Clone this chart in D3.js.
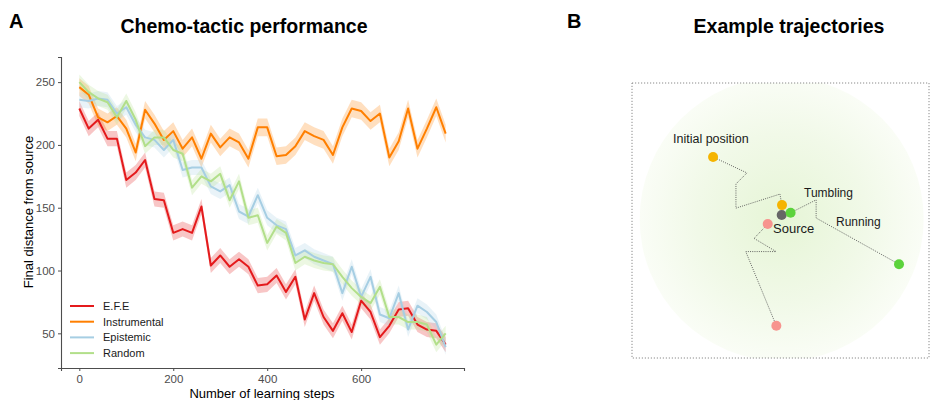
<!DOCTYPE html>
<html>
<head>
<meta charset="utf-8">
<script src="https://cdn.jsdelivr.net/npm/d3@7"></script>
<style>
  body { margin: 0; background: #fff; }
  svg { font-family: "Liberation Sans", Arial, Helvetica, sans-serif; }
</style>
</head>
<body>
<div id="chart"></div>
<script>
// ---- panel A data ----
const steps = [0, 20, 40, 60, 80, 100, 120, 140, 160, 180, 200, 220, 240, 260, 280, 300, 320, 340, 360, 380,
               400, 420, 440, 460, 480, 500, 520, 540, 560, 580, 600, 620, 640, 660, 680, 700, 720, 740, 760, 780];

const efe = [229, 213, 220, 205, 205, 172, 178, 188, 157, 156, 130, 133, 130, 151, 104, 112, 103, 109, 103, 88,
             89, 96, 83, 95, 61, 82, 63, 52, 66, 51, 76, 67, 47, 56, 69, 70, 57, 53, 52, 41];
const instrumental = [246, 240, 222, 218, 223, 213, 194, 228, 217, 204, 211, 197, 206, 189, 209, 198, 206, 202, 189, 214,
                      214, 191, 192, 199, 211, 207, 204, 192, 214, 229, 227, 219, 225, 190, 203, 229, 197, 213, 230, 209];
const epistemic = [236, 235, 237, 236, 225, 230, 216, 206, 204, 196, 204, 180, 182, 182, 167, 163, 168, 147, 143, 160,
                   142, 136, 133, 112, 116, 111, 108, 105, 82, 103, 79, 95, 65, 62, 82, 53, 72, 67, 59, 39];
const random = [250, 242, 237, 234, 222, 235, 220, 199, 206, 206, 196, 193, 166, 175, 171, 177, 156, 171, 142, 144,
                122, 135, 130, 106, 111, 108, 106, 105, 95, 86, 79, 74, 87, 63, 63, 59, 59, 57, 41, 50];

// approximate half-width of the shaded ribbons
const efeSE = 6, instrumentalSE = 7, epistemicSE = 6, randomSE = 6;

const seriesNames = ['E.F.E', 'Instrumental', 'Epistemic', 'Random'];
const seriesColors = ['#E41A1C', '#FF7F00', '#A6CEE3', '#B2DF8A'];

const xTicks = [0, 200, 400, 600];
const yTicks = [50, 100, 150, 200, 250];

// ---- panel B data (arena units 0..100) ----
const source = [50.4, 48.0];
const trajOrange = [[27.3, 26.9], [38.7, 32.7], [35.0, 36.7], [35.0, 45.5], [49.8, 40.4], [50.5, 44.4]];
const trajGreen = [[53.4, 47.2], [62.0, 42.5], [62.0, 49.1], [89.9, 65.9]];
const trajPink = [[45.7, 51.3], [41.1, 56.5], [48.5, 61.3], [38.3, 61.3], [48.6, 88.3]];
const dotColors = { orange: '#F5B400', green: '#5CD33C', pink: '#F7948E', source: '#666666' };

const svg = d3.select('#chart').append('svg')
    .attr('width', 930)
    .attr('height', 400);

// ===================== Panel A =====================
const x = d3.scaleLinear().domain([-39, 819]).range([61, 464]);
const y = d3.scaleLinear().domain([22.4, 270]).range([368, 57]);

const series = [
    { name: seriesNames[0], color: seriesColors[0], values: efe, se: efeSE },
    { name: seriesNames[1], color: seriesColors[1], values: instrumental, se: instrumentalSE },
    { name: seriesNames[2], color: seriesColors[2], values: epistemic, se: epistemicSE },
    { name: seriesNames[3], color: seriesColors[3], values: random, se: randomSE }
];

const area = d3.area()
    .x((d, i) => x(steps[i]))
    .y0(d => y(d.lo))
    .y1(d => y(d.hi));

const line = d3.line()
    .x((d, i) => x(steps[i]))
    .y(d => y(d));

const plotA = svg.append('g');

// ribbons first
plotA.selectAll('path.ribbon')
    .data(series)
    .join('path')
    .attr('class', 'ribbon')
    .attr('fill', s => s.color)
    .attr('fill-opacity', 0.25)
    .attr('d', s => area(s.values.map(v => ({ lo: v - s.se, hi: v + s.se }))));

plotA.selectAll('path.line')
    .data(series)
    .join('path')
    .attr('class', 'line')
    .attr('fill', 'none')
    .attr('stroke', s => s.color)
    .attr('stroke-width', 2)
    .attr('stroke-linejoin', 'round')
    .attr('d', s => line(s.values));

// axes
const xAxis = svg.append('g')
    .attr('transform', 'translate(0,368)')
    .call(d3.axisBottom(x).tickValues(xTicks).tickSizeOuter(0).tickSize(3).tickPadding(4));
const yAxis = svg.append('g')
    .attr('transform', 'translate(61,0)')
    .call(d3.axisLeft(y).tickValues(yTicks).tickSizeOuter(0).tickSize(3).tickPadding(3));

[xAxis, yAxis].forEach(a => {
    a.select('.domain').attr('stroke', '#4D4D4D').attr('stroke-width', 1.1);
    a.selectAll('.tick line').attr('stroke', '#4D4D4D');
    a.selectAll('.tick text')
        .attr('fill', '#4D4D4D')
        .style('font-size', '11.5px')
        .style('font-family', '"Liberation Sans", Arial, sans-serif');
});

svg.append('text')
    .attr('x', 262)
    .attr('y', 398)
    .attr('text-anchor', 'middle')
    .style('font-size', '13px')
    .text('Number of learning steps');

svg.append('text')
    .attr('transform', 'translate(33,212) rotate(-90)')
    .attr('text-anchor', 'middle')
    .style('font-size', '13px')
    .text('Final distance from source');

// legend
const legend = svg.append('g').attr('transform', 'translate(70,306)');
const legendItem = legend.selectAll('g')
    .data(series)
    .join('g')
    .attr('transform', (d, i) => `translate(0,${i * 15.7})`);
legendItem.append('line')
    .attr('x1', 0).attr('x2', 24)
    .attr('stroke', d => d.color)
    .attr('stroke-width', 2);
legendItem.append('text')
    .attr('x', 33)
    .attr('dy', '0.35em')
    .attr('fill', '#1a1a1a')
    .style('font-size', '11px')
    .text(d => d.name);

// titles
svg.append('text')
    .attr('x', 9).attr('y', 28)
    .style('font-size', '20px')
    .style('font-weight', 'bold')
    .text('A');
svg.append('text')
    .attr('x', 244).attr('y', 33)
    .attr('text-anchor', 'middle')
    .style('font-size', '19.5px')
    .style('font-weight', 'bold')
    .text('Chemo-tactic performance');

// ===================== Panel B =====================
svg.append('text')
    .attr('x', 567).attr('y', 28)
    .style('font-size', '20px')
    .style('font-weight', 'bold')
    .text('B');
svg.append('text')
    .attr('x', 789).attr('y', 33)
    .attr('text-anchor', 'middle')
    .style('font-size', '19.5px')
    .style('font-weight', 'bold')
    .text('Example trajectories');

const bx = d3.scaleLinear().domain([0, 100]).range([632, 929]);
const by = d3.scaleLinear().domain([0, 100]).range([83, 358]);

const defs = svg.append('defs');
const grad = defs.append('radialGradient').attr('id', 'glow');
grad.append('stop').attr('offset', '0%').attr('stop-color', '#e6f5d6');
grad.append('stop').attr('offset', '60%').attr('stop-color', '#f1f9e8');
grad.append('stop').attr('offset', '100%').attr('stop-color', '#fafdf6');

const clip = defs.append('clipPath').attr('id', 'arena');
clip.append('rect')
    .attr('x', bx(0)).attr('y', by(0))
    .attr('width', bx(100) - bx(0)).attr('height', by(100) - by(0));

svg.append('circle')
    .attr('clip-path', 'url(#arena)')
    .attr('cx', bx(source[0]))
    .attr('cy', by(source[1]) + 4)
    .attr('r', 142)
    .attr('fill', 'url(#glow)');

svg.append('rect')
    .attr('x', bx(0)).attr('y', by(0))
    .attr('width', bx(100) - bx(0)).attr('height', by(100) - by(0))
    .attr('fill', 'none')
    .attr('stroke', '#8a8a8a')
    .attr('stroke-width', 1)
    .attr('stroke-dasharray', '1.2,1.8');

const trajLine = d3.line().x(d => bx(d[0])).y(d => by(d[1]));
svg.selectAll('path.traj')
    .data([trajOrange, trajGreen, trajPink])
    .join('path')
    .attr('class', 'traj')
    .attr('fill', 'none')
    .attr('stroke', '#555')
    .attr('stroke-width', 0.9)
    .attr('stroke-dasharray', '1,1.2')
    .attr('d', trajLine);

const dots = [
    { p: trajOrange[0], c: dotColors.orange },
    { p: trajOrange[trajOrange.length - 1], c: dotColors.orange },
    { p: trajGreen[trajGreen.length - 1], c: dotColors.green },
    { p: trajPink[0], c: dotColors.pink },
    { p: trajPink[trajPink.length - 1], c: dotColors.pink },
    { p: source, c: dotColors.source },
    { p: trajGreen[0], c: dotColors.green }
];
svg.selectAll('circle.dot')
    .data(dots)
    .join('circle')
    .attr('class', 'dot')
    .attr('cx', d => bx(d.p[0]))
    .attr('cy', d => by(d.p[1]))
    .attr('r', 5)
    .attr('fill', d => d.c);

const labels = [
    { t: 'Initial position', x: 673, y: 143, s: 12.5 },
    { t: 'Tumbling', x: 804, y: 197, s: 12 },
    { t: 'Running', x: 836, y: 226, s: 12 },
    { t: 'Source', x: 773, y: 233, s: 13 }
];
svg.selectAll('text.blabel')
    .data(labels)
    .join('text')
    .attr('class', 'blabel')
    .attr('x', d => d.x)
    .attr('y', d => d.y)
    .attr('fill', '#1a1a1a')
    .style('font-size', d => d.s + 'px')
    .text(d => d.t);
</script>
</body>
</html>
